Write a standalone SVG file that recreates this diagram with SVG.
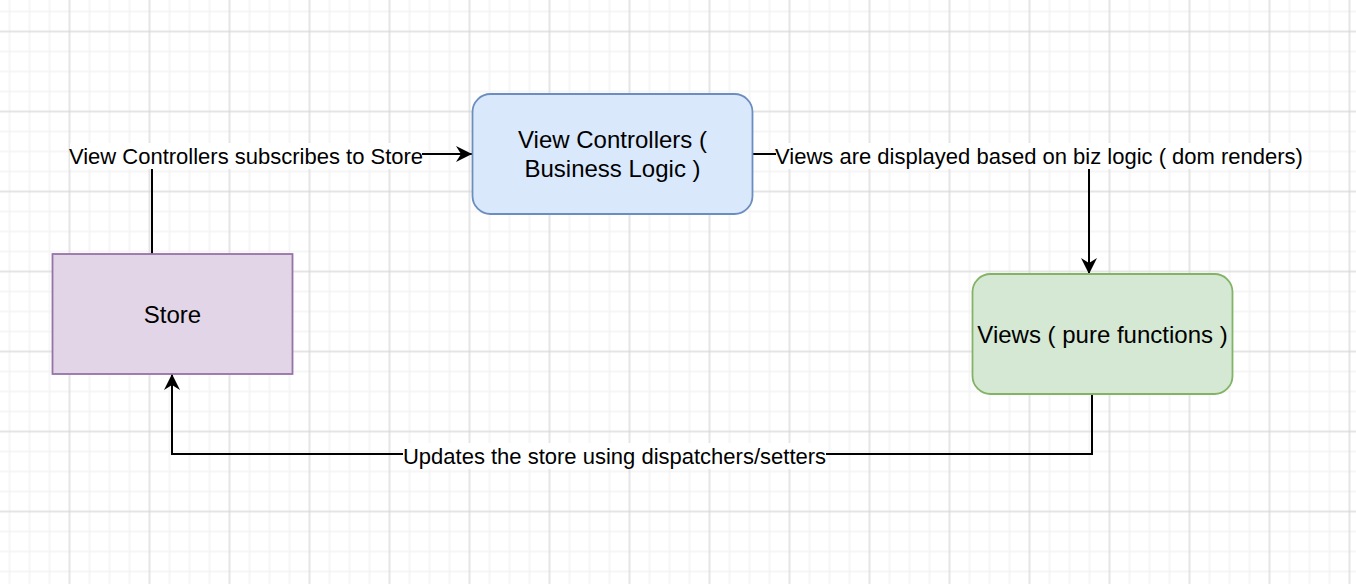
<svg xmlns="http://www.w3.org/2000/svg" width="1356" height="584" viewBox="0 0 1356 584">
  <style>
    .lbl { font-family: "Liberation Sans", Arial, Helvetica, sans-serif; font-size: 22px; fill: #000; text-anchor: middle; }
    .nlbl { font-family: "Liberation Sans", Arial, Helvetica, sans-serif; font-size: 24px; fill: #000; text-anchor: middle; }
    .edge { fill: none; stroke: #000; stroke-width: 2; }
    .minor { stroke: #f3f3f3; stroke-width: 1.5; }
    .major { stroke: #d3d3d3; stroke-width: 1; }
  </style>
  <defs>
    <pattern id="grid" patternUnits="userSpaceOnUse" x="-0.5" y="1.5" width="80" height="80">
      <path class="minor" d="M10,0V80M30,0V80M50,0V80M70,0V80M0,10H80M0,30H80M0,50H80M0,70H80"/>
      <path class="major" d="M70,0V80M0,30H80"/>
    </pattern>
    <marker id="arrow" markerUnits="userSpaceOnUse" markerWidth="18" markerHeight="16" refX="16" refY="8" orient="auto">
      <path d="M0,0 L16,8 L0,16 L5,8 Z" fill="#000"/>
    </marker>
  </defs>
  <rect x="0" y="0" width="1356" height="584" fill="#fff"/>
  <rect x="0" y="0" width="1356" height="584" fill="url(#grid)"/>

  <g id="connectors">
    <g id="edge-store-vc">
      <path class="edge" d="M152,254 V154 H472" marker-end="url(#arrow)"/>
      <rect x="70" y="143" width="352" height="26" fill="#fff"/>
      <text class="lbl" x="246" y="163.5">View Controllers subscribes to Store</text>
    </g>
    <g id="edge-vc-views">
      <path class="edge" d="M752,154 H1089 V274" marker-end="url(#arrow)"/>
      <rect x="776" y="143" width="526" height="26" fill="#fff"/>
      <text class="lbl" x="1039" y="163.5">Views are displayed based on biz logic ( dom renders)</text>
    </g>
    <g id="edge-views-store">
      <path class="edge" d="M1092,394 V454 H172 V374" marker-end="url(#arrow)"/>
      <rect x="403" y="443" width="423" height="26" fill="#fff"/>
      <text class="lbl" x="614.5" y="463.5">Updates the store using dispatchers/setters</text>
    </g>
  </g>

  <g id="node-view-controllers">
    <rect x="472.5" y="94" width="280" height="120" rx="18" ry="18" fill="#dae8fc" stroke="#6c8ebf" stroke-width="1.8"/>
    <text class="nlbl" x="612.5" y="147.5">View Controllers (</text>
    <text class="nlbl" x="612.5" y="176.5">Business Logic )</text>
  </g>

  <g id="node-store">
    <rect x="52.5" y="254" width="240" height="120" fill="#e1d5e7" stroke="#9673a6" stroke-width="1.8"/>
    <text class="nlbl" x="172.5" y="322.5">Store</text>
  </g>

  <g id="node-views">
    <rect x="972.5" y="274" width="260" height="120" rx="18" ry="18" fill="#d5e8d4" stroke="#82b366" stroke-width="1.8"/>
    <text class="nlbl" x="1102.5" y="342.5">Views ( pure functions )</text>
  </g>
</svg>
